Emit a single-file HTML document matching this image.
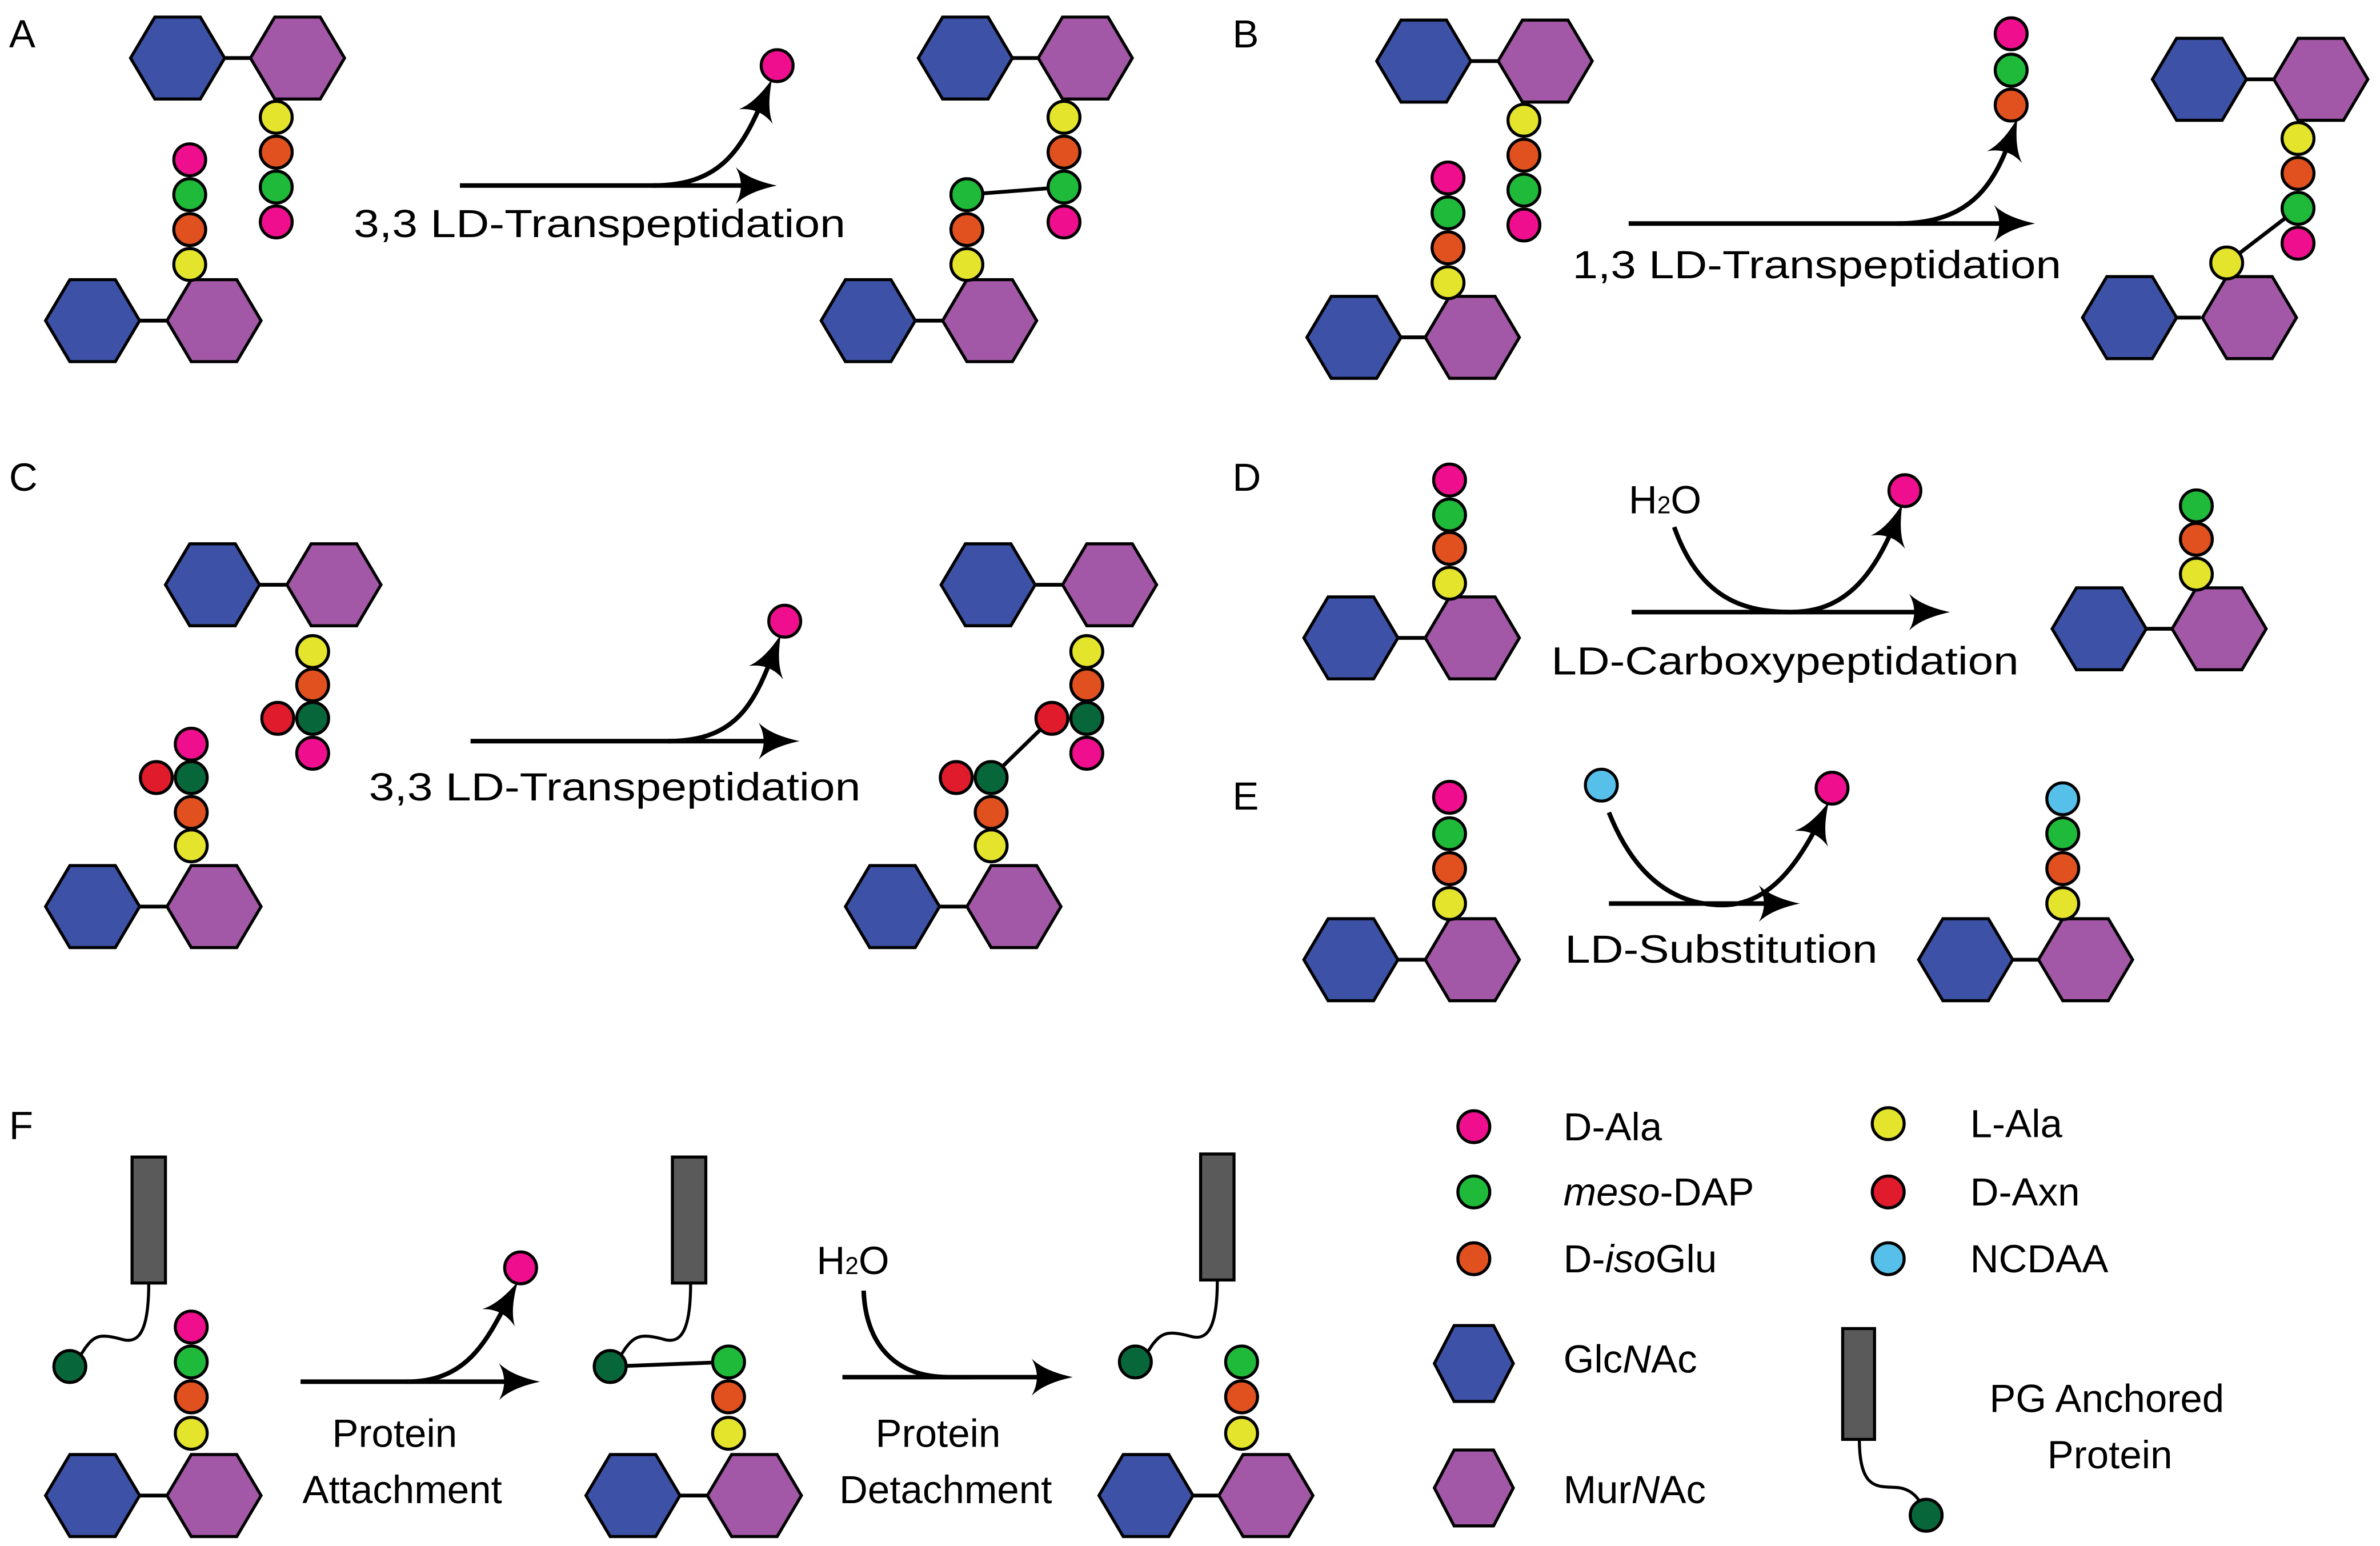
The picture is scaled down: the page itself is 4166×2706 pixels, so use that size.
<!DOCTYPE html>
<html><head><meta charset="utf-8"><style>
html,body{margin:0;padding:0;background:#fff;}
svg{display:block;}
text{font-family:"Liberation Sans",sans-serif;fill:#000;}
</style></head><body>
<svg width="4166" height="2706" viewBox="0 0 1568 1018" xmlns="http://www.w3.org/2000/svg">
<defs>
<polygon id="hb" points="-31,0 -15,-27 15,-27 31,0 15,27 -15,27" fill="#3d52a6" stroke="#000" stroke-width="2"/>
<polygon id="hp" points="-31,0 -15,-27 15,-27 31,0 15,27 -15,27" fill="#a258a6" stroke="#000" stroke-width="2"/>
<circle id="cy" r="10.5" fill="#e4e42d" stroke="#000" stroke-width="2"/>
<circle id="co" r="10.5" fill="#e0511f" stroke="#000" stroke-width="2"/>
<circle id="cg" r="10.5" fill="#1fba3a" stroke="#000" stroke-width="2"/>
<circle id="cp" r="10.5" fill="#ef0f8e" stroke="#000" stroke-width="2"/>
<circle id="cd" r="10.5" fill="#08673a" stroke="#000" stroke-width="2"/>
<circle id="cr" r="10.5" fill="#e01b2b" stroke="#000" stroke-width="2"/>
<circle id="cc" r="10.5" fill="#56c0ea" stroke="#000" stroke-width="2"/>
<marker id="ah" viewBox="0 0 20 20" refX="15" refY="10" markerWidth="27" markerHeight="27" markerUnits="userSpaceOnUse" orient="auto">
<path d="M0,1 Q6,7 20,10 Q6,13 0,19 Q5,10 0,1Z" fill="#000"/>
</marker>
</defs>
<g font-size="26">
<text x="6" y="31">A</text><text x="812" y="31">B</text><text x="6" y="323">C</text>
<text x="812" y="323">D</text><text x="812" y="533">E</text><text x="6" y="750">F</text>
</g>

<g stroke="#000" stroke-width="2.5" fill="none">
<line x1="148" y1="38" x2="165" y2="38"/><line x1="92" y1="211" x2="110" y2="211"/>
<line x1="667" y1="38" x2="684" y2="38"/><line x1="603" y1="211" x2="621" y2="211"/>
<line x1="969" y1="40" x2="987" y2="40"/><line x1="923" y1="222" x2="939" y2="222"/>
<line x1="1480" y1="52" x2="1498" y2="52"/><line x1="1434" y1="209" x2="1450" y2="209"/>
<line x1="171" y1="385" x2="189" y2="385"/><line x1="92" y1="597" x2="110" y2="597"/>
<line x1="682" y1="385" x2="700" y2="385"/><line x1="619" y1="597" x2="637" y2="597"/>
<line x1="921" y1="420" x2="939" y2="420"/><line x1="1414" y1="414" x2="1431" y2="414"/>
<line x1="921" y1="632" x2="939" y2="632"/><line x1="1326" y1="632" x2="1343" y2="632"/>
<line x1="92" y1="985" x2="110" y2="985"/><line x1="448" y1="985" x2="466" y2="985"/>
<line x1="786" y1="985" x2="803" y2="985"/>
<line x1="637" y1="128" x2="701" y2="123"/>
<line x1="1467" y1="173" x2="1514" y2="137"/>
<line x1="653" y1="512" x2="693" y2="473"/>
<line x1="402" y1="900" x2="480" y2="897"/>
</g>

<!-- Panel A -->
<use href="#hb" x="117" y="38"/><use href="#hp" x="196" y="38"/>
<use href="#cy" x="182" y="77"/><use href="#co" x="182" y="100"/><use href="#cg" x="182" y="123"/><use href="#cp" x="182" y="146"/>
<use href="#hb" x="61" y="211"/><use href="#hp" x="141" y="211"/>
<use href="#cy" x="125" y="174"/><use href="#co" x="125" y="151"/><use href="#cg" x="125" y="128"/><use href="#cp" x="125" y="105"/>
<use href="#cp" x="512" y="43"/>
<g stroke="#000" stroke-width="3" fill="none" marker-end="url(#ah)">
<path d="M303,122 L505,122"/>
<path d="M430,122 C478,122 490,95 506,58"/>
</g>
<text x="233" y="156" font-size="26" textLength="324" lengthAdjust="spacingAndGlyphs">3,3 LD-Transpeptidation</text>
<use href="#hb" x="636" y="38"/><use href="#hp" x="715" y="38"/>
<use href="#cy" x="701" y="77"/><use href="#co" x="701" y="100"/><use href="#cg" x="701" y="123"/><use href="#cp" x="701" y="146"/>
<use href="#hb" x="572" y="211"/><use href="#hp" x="652" y="211"/>
<use href="#cy" x="637" y="174"/><use href="#co" x="637" y="151"/><use href="#cg" x="637" y="128"/>

<!-- Panel B -->
<use href="#hb" x="938" y="40"/><use href="#hp" x="1018" y="40"/>
<use href="#cy" x="1004" y="79"/><use href="#co" x="1004" y="102"/><use href="#cg" x="1004" y="125"/><use href="#cp" x="1004" y="148"/>
<use href="#hb" x="892" y="222"/><use href="#hp" x="970" y="222"/>
<use href="#cy" x="954" y="186"/><use href="#co" x="954" y="163"/><use href="#cg" x="954" y="140"/><use href="#cp" x="954" y="117"/>
<use href="#cp" x="1325" y="22"/><use href="#cg" x="1325" y="46"/><use href="#co" x="1325" y="69"/>
<g stroke="#000" stroke-width="3" fill="none" marker-end="url(#ah)">
<path d="M1073,147 L1334,147"/>
<path d="M1250,147 C1300,147 1315,120 1327,84"/>
</g>
<text x="1036" y="183" font-size="26" textLength="322" lengthAdjust="spacingAndGlyphs">1,3 LD-Transpeptidation</text>
<use href="#hb" x="1449" y="52"/><use href="#hp" x="1529" y="52"/>
<use href="#cy" x="1514" y="91"/><use href="#co" x="1514" y="114"/><use href="#cg" x="1514" y="137"/><use href="#cp" x="1514" y="160"/>
<use href="#hb" x="1403" y="209"/><use href="#hp" x="1482" y="209"/>
<use href="#cy" x="1467" y="173"/>

<!-- Panel C -->
<use href="#hb" x="140" y="385"/><use href="#hp" x="220" y="385"/>
<use href="#cy" x="206" y="429"/><use href="#co" x="206" y="451"/><use href="#cd" x="206" y="473"/><use href="#cp" x="206" y="496"/>
<use href="#cr" x="183" y="473"/>
<use href="#hb" x="61" y="597"/><use href="#hp" x="141" y="597"/>
<use href="#cy" x="126" y="557"/><use href="#co" x="126" y="535"/><use href="#cd" x="126" y="512"/><use href="#cp" x="126" y="490"/>
<use href="#cr" x="103" y="512"/>
<use href="#cp" x="517" y="409"/>
<g stroke="#000" stroke-width="3" fill="none" marker-end="url(#ah)">
<path d="M310,488 L520,488"/>
<path d="M440,488 C488,488 498,460 512,424"/>
</g>
<text x="243" y="527" font-size="26" textLength="324" lengthAdjust="spacingAndGlyphs">3,3 LD-Transpeptidation</text>
<use href="#hb" x="651" y="385"/><use href="#hp" x="731" y="385"/>
<use href="#cy" x="716" y="429"/><use href="#co" x="716" y="451"/><use href="#cd" x="716" y="473"/><use href="#cp" x="716" y="496"/>
<use href="#cr" x="693" y="473"/>
<use href="#hb" x="588" y="597"/><use href="#hp" x="668" y="597"/>
<use href="#cy" x="653" y="557"/><use href="#co" x="653" y="535"/><use href="#cd" x="653" y="512"/>
<use href="#cr" x="630" y="512"/>

<!-- Panel D -->
<use href="#hb" x="890" y="420"/><use href="#hp" x="970" y="420"/>
<use href="#cy" x="955" y="384"/><use href="#co" x="955" y="361"/><use href="#cg" x="955" y="339"/><use href="#cp" x="955" y="316"/>
<text x="1073" y="338" font-size="26">H<tspan font-size="16">2</tspan>O</text>
<use href="#cp" x="1255" y="323"/>
<g stroke="#000" stroke-width="3" fill="none" marker-end="url(#ah)">
<path d="M1075,403 L1278,403"/>
<path d="M1103,347 C1120,395 1150,403 1180,403 C1215,403 1235,380 1251,338"/>
</g>
<text x="1022" y="444" font-size="26" textLength="308" lengthAdjust="spacingAndGlyphs">LD-Carboxypeptidation</text>
<use href="#hb" x="1383" y="414"/><use href="#hp" x="1462" y="414"/>
<use href="#cy" x="1447" y="378"/><use href="#co" x="1447" y="355"/><use href="#cg" x="1447" y="333"/>

<!-- Panel E -->
<use href="#hb" x="890" y="632"/><use href="#hp" x="970" y="632"/>
<use href="#cy" x="955" y="595"/><use href="#co" x="955" y="572"/><use href="#cg" x="955" y="549"/><use href="#cp" x="955" y="525"/>
<use href="#cc" x="1055" y="517"/><use href="#cp" x="1207" y="519"/>
<g stroke="#000" stroke-width="3" fill="none" marker-end="url(#ah)">
<path d="M1060,595 L1179,595"/>
<path d="M1060,535 C1078,580 1105,596 1135,596 C1165,596 1185,570 1202,534"/>
</g>
<text x="1031" y="634" font-size="26" textLength="206" lengthAdjust="spacingAndGlyphs">LD-Substitution</text>
<use href="#hb" x="1295" y="632"/><use href="#hp" x="1374" y="632"/>
<use href="#cy" x="1359" y="595"/><use href="#co" x="1359" y="572"/><use href="#cg" x="1359" y="549"/><use href="#cc" x="1359" y="526"/>

<!-- Panel F -->
<g stroke="#000" stroke-width="2" fill="none">
<path d="M98,845 C98,880 90,885 80,882 C65,878 62,880 56,888 C53,893 50,896 48,900"/>
<path d="M455,845 C455,880 447,885 437,882 C422,878 418,880 412,888 C409,893 406,896 404,900"/>
<path d="M802,843 C802,878 794,883 784,880 C769,876 765,878 759,886 C756,891 753,894 750,897"/>
<path d="M1225,948 C1225,985 1240,978 1252,980 C1262,982 1266,990 1268,996"/>
</g>
<rect x="87" y="762" width="22" height="83" fill="#5a5a5a" stroke="#000" stroke-width="2"/>
<rect x="443" y="762" width="22" height="83" fill="#5a5a5a" stroke="#000" stroke-width="2"/>
<rect x="791" y="760" width="22" height="83" fill="#5a5a5a" stroke="#000" stroke-width="2"/>
<use href="#cd" x="46" y="900"/>
<use href="#hb" x="61" y="985"/><use href="#hp" x="141" y="985"/>
<use href="#cy" x="126" y="944"/><use href="#co" x="126" y="920"/><use href="#cg" x="126" y="897"/><use href="#cp" x="126" y="874"/>
<use href="#cp" x="343" y="835"/>
<g stroke="#000" stroke-width="3" fill="none" marker-end="url(#ah)">
<path d="M198,910 L349,910"/>
<path d="M268,910 C310,910 322,880 338,850"/>
<path d="M555,907 L700,907"/>
</g>
<path d="M569,850 C570,880 585,907 625,907 L640,907" stroke="#000" stroke-width="3" fill="none"/>
<text x="260" y="953" font-size="26" text-anchor="middle">Protein</text>
<text x="265" y="990" font-size="26" text-anchor="middle">Attachment</text>
<use href="#cd" x="402" y="900"/>
<use href="#hb" x="417" y="985"/><use href="#hp" x="497" y="985"/>
<use href="#cy" x="480" y="944"/><use href="#co" x="480" y="920"/><use href="#cg" x="480" y="897"/>
<text x="538" y="839" font-size="26">H<tspan font-size="16">2</tspan>O</text>
<text x="618" y="953" font-size="26" text-anchor="middle">Protein</text>
<text x="623" y="990" font-size="26" text-anchor="middle">Detachment</text>
<use href="#cd" x="748" y="897"/>
<use href="#hb" x="755" y="985"/><use href="#hp" x="834" y="985"/>
<use href="#cy" x="818" y="944"/><use href="#co" x="818" y="920"/><use href="#cg" x="818" y="897"/>

<!-- Legend -->
<use href="#cp" x="971" y="742"/><use href="#cg" x="971" y="785"/><use href="#co" x="971" y="829"/>
<use href="#cy" x="1244" y="740"/><use href="#cr" x="1244" y="785"/><use href="#cc" x="1244" y="829"/>
<g font-size="26">
<text x="1030" y="751">D-Ala</text>
<text x="1030" y="794"><tspan font-style="italic">meso</tspan>-DAP</text>
<text x="1030" y="838">D-<tspan font-style="italic">iso</tspan>Glu</text>
<text x="1298" y="749">L-Ala</text>
<text x="1298" y="794">D-Axn</text>
<text x="1298" y="838">NCDAA</text>
<text x="1030" y="904">Glc<tspan font-style="italic">N</tspan>Ac</text>
<text x="1030" y="990">Mur<tspan font-style="italic">N</tspan>Ac</text>
<text x="1388" y="930" text-anchor="middle">PG Anchored</text>
<text x="1390" y="967" text-anchor="middle">Protein</text>
</g>
<polygon points="945,898 958,873 984,873 997,898 984,923 958,923" fill="#3d52a6" stroke="#000" stroke-width="2"/>
<polygon points="945,980 958,955 984,955 997,980 984,1005 958,1005" fill="#a258a6" stroke="#000" stroke-width="2"/>
<rect x="1214" y="875" width="21" height="73" fill="#5a5a5a" stroke="#000" stroke-width="2"/>
<use href="#cd" x="1269" y="998"/>
</svg>
</body></html>
